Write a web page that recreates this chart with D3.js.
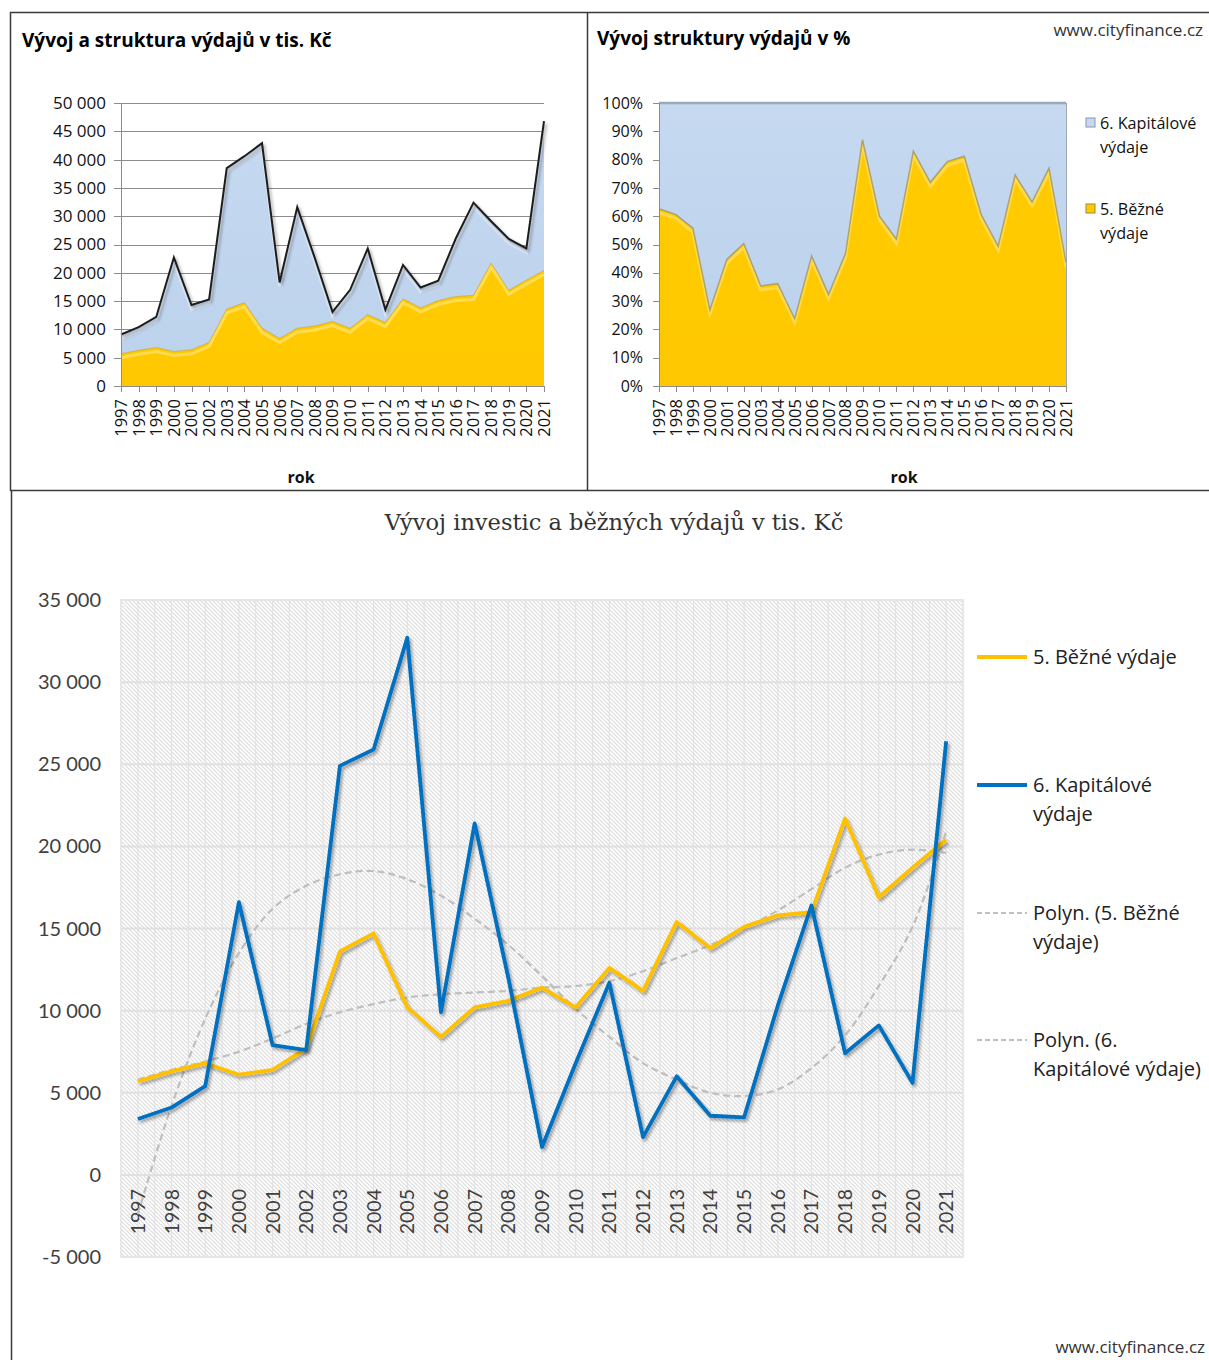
<!DOCTYPE html>
<html><head><meta charset="utf-8">
<script src="https://cdn.jsdelivr.net/npm/d3@7"></script>
<style>body{margin:0;background:#fff} svg{display:block}</style>
</head><body><svg id="c" width="1209" height="1360"></svg>
<script>
const years = [1997,1998,1999,2000,2001,2002,2003,2004,2005,2006,2007,2008,2009,2010,2011,2012,2013,2014,2015,2016,2017,2018,2019,2020,2021];
const bezne = [5700,6300,6800,6100,6400,7700,13600,14700,10200,8400,10200,10600,11400,10200,12600,11200,15400,13800,15100,15800,16000,21700,16900,18700,20400];
const kapitalove = [3400,4100,5400,16600,7900,7600,24900,25900,32700,9900,21400,12000,1700,6800,11700,2300,6000,3600,3500,10300,16400,7400,9100,5600,26400];
const trendBezne = [5800,6400,6900,7500,8300,9200,9900,10400,10800,11000,11100,11200,11400,11500,11800,12400,13200,14000,15000,16100,17400,18700,19500,19800,19600];
const trendKapitalove = [-2400,4200,9500,13500,16200,17600,18300,18500,18000,17000,15600,14000,12100,10100,8400,6800,5800,5000,4800,5200,6500,8500,11500,15100,20900];
const ticksAbs = [0,5000,10000,15000,20000,25000,30000,35000,40000,45000,50000];
const ticksPct = [0,0.1,0.2,0.3,0.4,0.5,0.6,0.7,0.8,0.9,1];
const ticksBottom = [-5000,0,5000,10000,15000,20000,25000,30000,35000];

const loc = d3.formatLocale({decimal:",",thousands:" ",grouping:[3],currency:["","Kč"],minus:"-"});
const fmt = loc.format(",d");
const pct = d3.format(".0%");

const svg = d3.select("#c");
const defs = svg.append("defs");
const sh = defs.append("filter").attr("id","sh").attr("x","-10%").attr("y","-10%").attr("width","130%").attr("height","130%");
sh.append("feDropShadow").attr("dx",2).attr("dy",2.5).attr("stdDeviation",1.6).attr("flood-color","#000").attr("flood-opacity",0.35);
const pat = defs.append("pattern").attr("id","hatch").attr("patternUnits","userSpaceOnUse").attr("width",4).attr("height",4);
pat.append("rect").attr("width",4).attr("height",4).attr("fill","#ffffff");
pat.append("path").attr("d","M-1,-1 L5,5 M3,-1 L5,1 M-1,3 L1,5").attr("stroke","#dcdcdc").attr("stroke-width",1.1);
const gB = defs.append("linearGradient").attr("id","gBlue").attr("x1",0).attr("y1",0).attr("x2",0).attr("y2",1);
gB.append("stop").attr("offset","0%").attr("stop-color","#c6d9f1");
gB.append("stop").attr("offset","100%").attr("stop-color","#bdd2ec");
const gY = defs.append("linearGradient").attr("id","gYel").attr("x1",0).attr("y1",0).attr("x2",0).attr("y2",1);
gY.append("stop").attr("offset","0%").attr("stop-color","#ffcc00");
gY.append("stop").attr("offset","100%").attr("stop-color","#ffc800");

const data = years.map((y,i)=>({year:y,bezne:bezne[i],kap:kapitalove[i]}));
const stackAbs = d3.stack().keys(["bezne","kap"])(data);
const stackPct = d3.stack().keys(["bezne","kap"]).offset(d3.stackOffsetExpand)(data);

// ---------- panel borders ----------
const bc = "#3a3a3a";
svg.append("line").attr("x1",10).attr("x2",1209).attr("y1",12.5).attr("y2",12.5).attr("stroke",bc).attr("stroke-width",1.5);
svg.append("line").attr("x1",10).attr("x2",1209).attr("y1",490.5).attr("y2",490.5).attr("stroke",bc).attr("stroke-width",1.5);
svg.append("line").attr("x1",10.5).attr("x2",10.5).attr("y1",12).attr("y2",491).attr("stroke",bc).attr("stroke-width",1.5);
svg.append("line").attr("x1",587.5).attr("x2",587.5).attr("y1",12).attr("y2",491).attr("stroke",bc).attr("stroke-width",1.5);
svg.append("line").attr("x1",11.5).attr("x2",11.5).attr("y1",490).attr("y2",1360).attr("stroke",bc).attr("stroke-width",1.5);

const font = "'Open Sans', Lato, sans-serif";
const fontB = "Lato, 'Open Sans', sans-serif";

// ---------- Chart 1 ----------
{
  const x = d3.scalePoint().domain(years).range([121,544]);
  const y = d3.scaleLinear().domain([0,50000]).range([386,103]);
  const g = svg.append("g");
  g.append("text").attr("x",22).attr("y",47).attr("font-family",font).attr("font-weight","bold").attr("font-size",19).attr("fill","#000").text("Vývoj a struktura výdajů v tis. Kč");
  g.selectAll(".gl").data(ticksAbs).join("line").attr("x1",114).attr("x2",544).attr("y1",d=>Math.round(y(d))+0.5).attr("y2",d=>Math.round(y(d))+0.5).attr("stroke","#8c8c8c").attr("stroke-width",1);
  const area = d3.area().x(d=>x(d.data.year)).y0(d=>y(d[0])).y1(d=>y(d[1]));
  g.append("path").datum(stackAbs[1]).attr("d",area).attr("fill","url(#gBlue)");
  g.append("path").datum(stackAbs[1]).attr("d",d3.line().x(d=>x(d.data.year)).y(d=>y(d[1])+4)).attr("fill","none").attr("stroke","#e4eefa").attr("stroke-width",3).attr("opacity",0.8);
  g.append("path").datum(stackAbs[0]).attr("d",area).attr("fill","url(#gYel)");
  g.append("path").datum(stackAbs[0]).attr("d",d3.line().x(d=>x(d.data.year)).y(d=>y(d[1])+4)).attr("fill","none").attr("stroke","#ffe066").attr("stroke-width",3).attr("opacity",0.8);
  g.append("path").datum(stackAbs[0]).attr("d",d3.line().x(d=>x(d.data.year)).y(d=>y(d[1]))).attr("fill","none").attr("stroke","#b89a40").attr("stroke-width",1).attr("opacity",0.6);
  g.append("path").datum(stackAbs[1]).attr("d",d3.line().x(d=>x(d.data.year)).y(d=>y(d[1]))).attr("fill","none").attr("stroke","#1e1e1e").attr("stroke-width",2).attr("filter","url(#sh)");
  g.append("line").attr("x1",121.5).attr("x2",121.5).attr("y1",103).attr("y2",386).attr("stroke","#8c8c8c");
  g.append("line").attr("x1",121).attr("x2",544).attr("y1",386.5).attr("y2",386.5).attr("stroke","#8c8c8c");
  g.selectAll(".xt").data(years).join("line").attr("x1",d=>Math.round(x(d))+0.5).attr("x2",d=>Math.round(x(d))+0.5).attr("y1",386).attr("y2",392).attr("stroke","#8c8c8c");
  g.selectAll(".yl").data(ticksAbs).join("text").attr("x",106).attr("y",d=>y(d)).attr("dy","0.35em").attr("text-anchor","end").attr("font-family",font).attr("font-size",17).attr("fill","#111").text(d=>fmt(d));
  g.selectAll(".xl").data(years).join("text").attr("transform",d=>`translate(${x(d)},399) rotate(-90)`).attr("dy","0.36em").attr("text-anchor","end").attr("font-family",font).attr("font-size",16.5).attr("fill","#111").text(d=>d);
  g.append("text").attr("x",301).attr("y",483).attr("text-anchor","middle").attr("font-family",font).attr("font-weight","bold").attr("font-size",16).attr("fill","#111").text("rok");
}

// ---------- Chart 2 ----------
{
  const x = d3.scalePoint().domain(years).range([659,1066]);
  const y = d3.scaleLinear().domain([0,1]).range([386,103]);
  const g = svg.append("g");
  g.append("text").attr("x",597).attr("y",45).attr("font-family",font).attr("font-weight","bold").attr("font-size",19).attr("fill","#000").text("Vývoj struktury výdajů v %");
  g.append("text").attr("x",1203).attr("y",36).attr("text-anchor","end").attr("font-family",font).attr("font-size",17).attr("fill","#333").text("www.cityfinance.cz");
  const area = d3.area().x(d=>x(d.data.year)).y0(d=>y(d[0])).y1(d=>y(d[1]));
  g.append("path").datum(stackPct[1]).attr("d",area).attr("fill","url(#gBlue)");
  g.append("path").datum(stackPct[1]).attr("d",d3.line().x(d=>x(d.data.year)).y(d=>y(d[1]))).attr("fill","none").attr("stroke","#9aa8b8").attr("stroke-width",2.5);
  g.append("path").datum(stackPct[0]).attr("d",area).attr("fill","url(#gYel)");
  g.append("path").datum(stackPct[0]).attr("d",d3.line().x(d=>x(d.data.year)).y(d=>y(d[1])+4)).attr("fill","none").attr("stroke","#ffe066").attr("stroke-width",3).attr("opacity",0.7);
  g.append("path").datum(stackPct[0]).attr("d",d3.line().x(d=>x(d.data.year)).y(d=>y(d[1]))).attr("fill","none").attr("stroke","#8f8a70").attr("stroke-width",1.5).attr("opacity",0.7);
  g.append("line").attr("x1",659.5).attr("x2",659.5).attr("y1",103).attr("y2",386).attr("stroke","#8c8c8c");
  g.append("line").attr("x1",1066.5).attr("x2",1066.5).attr("y1",103).attr("y2",386).attr("stroke","#a0a8b4");
  g.append("line").attr("x1",659).attr("x2",1066).attr("y1",386.5).attr("y2",386.5).attr("stroke","#8c8c8c");
  g.selectAll(".ytk").data(ticksPct).join("line").attr("x1",653).attr("x2",659).attr("y1",d=>Math.round(y(d))+0.5).attr("y2",d=>Math.round(y(d))+0.5).attr("stroke","#8c8c8c");
  g.selectAll(".xt").data(years).join("line").attr("x1",d=>Math.round(x(d))+0.5).attr("x2",d=>Math.round(x(d))+0.5).attr("y1",386).attr("y2",392).attr("stroke","#8c8c8c");
  g.selectAll(".yl").data(ticksPct).join("text").attr("x",643).attr("y",d=>y(d)).attr("dy","0.35em").attr("text-anchor","end").attr("font-family",font).attr("font-size",16).attr("fill","#111").text(d=>pct(d));
  g.selectAll(".xl").data(years).join("text").attr("transform",d=>`translate(${x(d)},399) rotate(-90)`).attr("dy","0.36em").attr("text-anchor","end").attr("font-family",font).attr("font-size",16.5).attr("fill","#111").text(d=>d);
  g.append("text").attr("x",904).attr("y",483).attr("text-anchor","middle").attr("font-family",font).attr("font-weight","bold").attr("font-size",16).attr("fill","#111").text("rok");
  const leg = [{c:"#c6d9f1",s:"#8496b0",l:["6. Kapitálové","výdaje"],y:123},{c:"#ffcc00",s:"#9c8a3a",l:["5. Běžné","výdaje"],y:209}];
  leg.forEach(o=>{
    g.append("rect").attr("x",1086).attr("y",o.y-5).attr("width",9).attr("height",9).attr("fill",o.c).attr("stroke",o.s).attr("stroke-width",1);
    o.l.forEach((t,i)=>g.append("text").attr("x",1100).attr("y",o.y+i*24).attr("dy","0.35em").attr("font-family",font).attr("font-size",16.2).attr("fill","#111").text(t));
  });
}

// ---------- Chart 3 ----------
{
  const x = d3.scaleBand().domain(years).range([121,963]);
  const cx = d => x(d)+x.bandwidth()/2;
  const y = d3.scaleLinear().domain([-5000,35000]).range([1257,600]);
  const g = svg.append("g");
  g.append("text").attr("x",614).attr("y",530).attr("text-anchor","middle").attr("font-family","'DejaVu Serif','Liberation Serif',serif").attr("font-size",22.5).attr("fill","#333").text("Vývoj investic a běžných výdajů v tis. Kč");
  g.append("rect").attr("x",121).attr("y",600).attr("width",842).attr("height",657).attr("fill","url(#hatch)");
  const vx = [];
  years.forEach(d=>{vx.push(x(d)); vx.push(cx(d));}); vx.push(963);
  g.selectAll(".vg").data(vx).join("line").attr("x1",d=>d).attr("x2",d=>d).attr("y1",600).attr("y2",1257).attr("stroke","#e2e2e2").attr("stroke-width",1.2);
  g.selectAll(".hg").data(ticksBottom).join("line").attr("x1",121).attr("x2",963).attr("y1",d=>y(d)).attr("y2",d=>y(d)).attr("stroke","#e0e0e0").attr("stroke-width",2);
  g.append("rect").attr("x",121).attr("y",600).attr("width",842).attr("height",657).attr("fill","none").attr("stroke","#e6e6e6").attr("stroke-width",1.5);
  g.selectAll(".yl").data(ticksBottom).join("text").attr("x",101).attr("y",d=>y(d)).attr("dy","0.35em").attr("text-anchor","end").attr("font-family",fontB).attr("font-size",20).attr("fill","#404040").text(d=>fmt(d));
  g.selectAll(".xl").data(years).join("text").attr("transform",d=>`translate(${cx(d)},1189) rotate(-90)`).attr("dy","0.36em").attr("text-anchor","end").attr("font-family",fontB).attr("font-size",19.5).attr("fill","#404040").text(d=>d);
  const line = d3.line().x((d,i)=>cx(years[i])).y(d=>y(d));
  const sline = d3.line().x((d,i)=>cx(years[i])).y(d=>y(d)).curve(d3.curveCatmullRom.alpha(0.5));
  g.append("path").datum(trendBezne).attr("d",sline).attr("fill","none").attr("stroke","#bfbfbf").attr("stroke-width",2.2).attr("stroke-dasharray","7,4");
  g.append("path").datum(trendKapitalove).attr("d",sline).attr("fill","none").attr("stroke","#bfbfbf").attr("stroke-width",2.2).attr("stroke-dasharray","7,4");
  g.append("path").datum(bezne).attr("d",line).attr("fill","none").attr("stroke","#ffc000").attr("stroke-width",3.8).attr("stroke-linejoin","round").attr("filter","url(#sh)");
  g.append("path").datum(kapitalove).attr("d",line).attr("fill","none").attr("stroke","#0070c0").attr("stroke-width",3.8).attr("stroke-linejoin","round").attr("filter","url(#sh)");
  const leg = [
    {c:"#ffc000",w:4,d:null,l:["5. Běžné výdaje"],y:657},
    {c:"#0070c0",w:4,d:null,l:["6. Kapitálové","výdaje"],y:785},
    {c:"#bfbfbf",w:2,d:"5,3",l:["Polyn. (5. Běžné","výdaje)"],y:913},
    {c:"#bfbfbf",w:2,d:"5,3",l:["Polyn. (6.","Kapitálové výdaje)"],y:1040}
  ];
  leg.forEach(o=>{
    g.append("line").attr("x1",977).attr("x2",1027).attr("y1",o.y).attr("y2",o.y).attr("stroke",o.c).attr("stroke-width",o.w).attr("stroke-dasharray",o.d);
    o.l.forEach((t,i)=>g.append("text").attr("x",1033).attr("y",o.y+i*28.5).attr("dy","0.35em").attr("font-family",font).attr("font-size",20).attr("fill","#222").text(t));
  });
  g.append("text").attr("x",1205).attr("y",1353).attr("text-anchor","end").attr("font-family",font).attr("font-size",17).attr("fill","#333").text("www.cityfinance.cz");
}
</script></body></html>
